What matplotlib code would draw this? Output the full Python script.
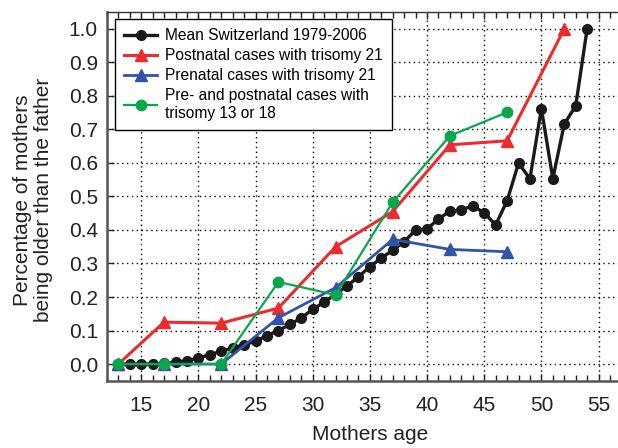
import numpy as np
import matplotlib
matplotlib.use("Agg")
import matplotlib.pyplot as plt
from matplotlib.ticker import MultipleLocator, FormatStrFormatter

plt.rcParams['font.family'] = ['Liberation Sans', 'DejaVu Sans']

# mean Switzerland 1979-2006, one value per year of mothers age
mean_age = list(range(13, 55))
mean_val = [0.0, 0.0, 0.0, 0.0, 0.002, 0.005, 0.01, 0.018, 0.028, 0.038,
            0.048, 0.058, 0.068, 0.085, 0.10, 0.118, 0.138, 0.163, 0.185, 0.208,
            0.233, 0.26, 0.291, 0.316, 0.34, 0.365, 0.40, 0.403, 0.433, 0.456,
            0.46, 0.472, 0.451, 0.415, 0.487, 0.599, 0.553, 0.762, 0.553, 0.716,
            0.77, 1.0]

# case groups (5 year steps)
post_age = [13, 17, 22, 27, 32, 37, 42, 47, 52]
post_val = [0.0, 0.125, 0.122, 0.167, 0.35, 0.455, 0.654, 0.666, 1.0]

pre_age = [13, 17, 22, 27, 32, 37, 42, 47]
pre_val = [0.0, 0.0, 0.0, 0.138, 0.228, 0.372, 0.342, 0.335]

tri_age = [13, 17, 22, 27, 32, 37, 42, 47]
tri_val = [0.0, 0.0, 0.0, 0.245, 0.206, 0.483, 0.681, 0.751]

fig = plt.figure(figsize=(6.18, 4.48), dpi=100)
ax = fig.add_axes([0.173, 0.150, 0.827, 0.823])

ax.plot(mean_age, mean_val, '-o', color='#1a1a1a', lw=2.4, ms=7,
        label='Mean Switzerland 1979-2006')
ax.plot(post_age, post_val, '-^', color='#ec2b2e', lw=2.2, ms=8.5,
        label='Postnatal cases with trisomy 21')
ax.plot(pre_age, pre_val, '-^', color='#3253a8', lw=2.0, ms=8.5,
        label='Prenatal cases with trisomy 21')
ax.plot(tri_age, tri_val, '-o', color='#0aa64c', lw=1.6, ms=7.5,
        label='Pre- and postnatal cases with\ntrisomy 13 or 18')

ax.set_xlim(12, 56.7)
ax.set_ylim(-0.05, 1.05)
ax.xaxis.set_major_locator(MultipleLocator(5))
ax.xaxis.set_minor_locator(MultipleLocator(1))
ax.yaxis.set_major_locator(MultipleLocator(0.1))
ax.yaxis.set_major_formatter(FormatStrFormatter('%.1f'))
ax.grid(True, which='major', color='black', linestyle=(0, (1, 2.5)), lw=1.0)

ax.tick_params(which='both', direction='in', top=True, right=False,
               labelsize=15, colors='#222222')
ax.tick_params(which='major', length=5, width=1)
ax.tick_params(which='minor', length=4, width=1)
ax.tick_params(axis='x', which='major', pad=11)
ax.tick_params(axis='y', which='major', pad=6.5)
ax.spines['right'].set_visible(False)
for s in ['left', 'bottom']:
    ax.spines[s].set_linewidth(1.8)
    ax.spines[s].set_color('#555555')
ax.spines['top'].set_linewidth(1.0)
ax.spines['top'].set_color('#333333')

ax.set_xlabel('Mothers age', fontsize=15, color='#222222')
ax.set_ylabel('Percentage of mothers\nbeing older than the father',
              fontsize=15, color='#222222', linespacing=1.15)
ax.xaxis.set_label_coords(0.515, -0.12)
ax.yaxis.set_label_coords(-0.105, 0.49)

leg = ax.legend(loc='upper left', bbox_to_anchor=(0.016, 0.981),
                borderaxespad=0, fontsize=11.2, fancybox=False,
                edgecolor='black', framealpha=1, handlelength=2.1,
                handletextpad=0.5, labelspacing=0.32, borderpad=0.6)
leg.get_frame().set_linewidth(1.0)

fig.savefig('out.png', dpi=100)
